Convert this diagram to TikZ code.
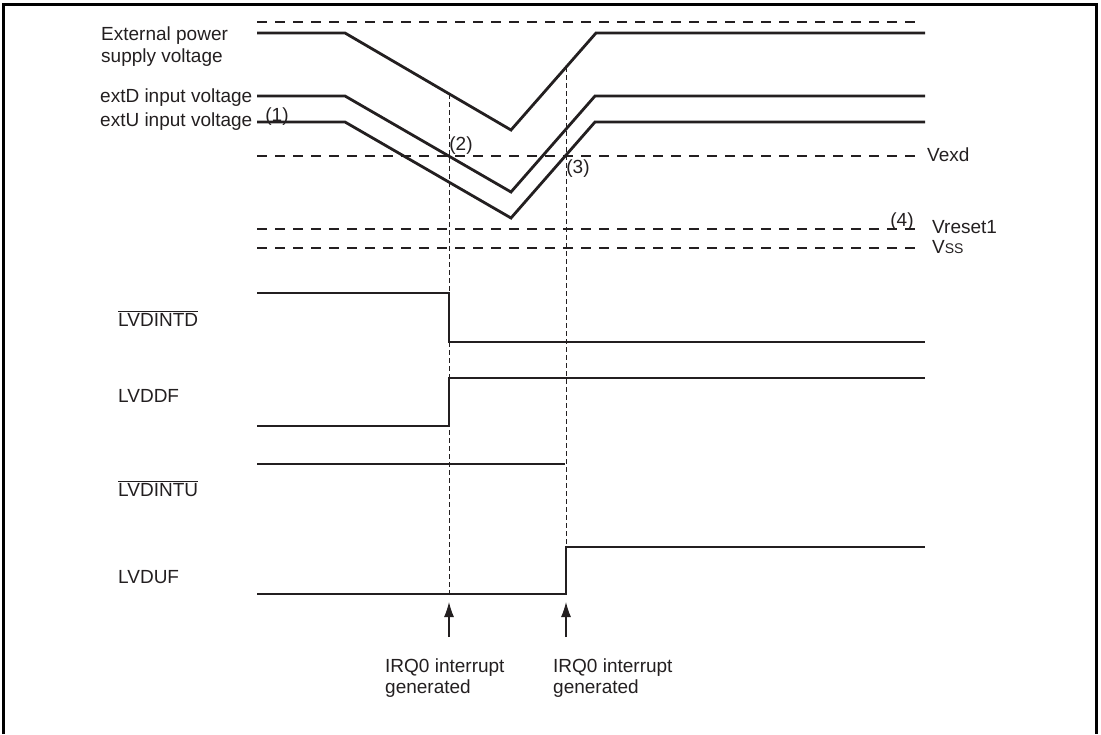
\documentclass[tikz,border=0pt]{standalone}
\usepackage{fontspec}
\setmainfont{Liberation Sans}
\usetikzlibrary{arrows.meta}
\definecolor{ink}{RGB}{35,31,32}
\begin{document}
\begin{tikzpicture}[x=1pt,y=-1pt,
  lbl/.style={inner sep=0pt, anchor=base west, font=\fontsize{19}{23}\selectfont, text=ink},
  num/.style={inner sep=0pt, anchor=base, font=\fontsize{19}{23}\selectfont, text=ink},
  sig/.style={draw=ink, line width=2.8pt, line join=miter},
  refline/.style={draw=ink, line width=1.1pt, dash pattern=on 10pt off 8pt},
  guide/.style={draw=ink, line width=1pt, dash pattern=on 5pt off 3pt},
  irqarrow/.style={draw=ink, line width=1.1pt, -{Latex[length=15pt,width=10pt]}},
  framestyle/.style={draw=black, line width=3pt}]
\useasboundingbox (0,0) rectangle (1101,734);
% frame (open at the bottom)
\coordinate (fa) at (3,734);
\coordinate (fb) at (3,4);
\coordinate (fc) at (1096,4);
\coordinate (fd) at (1096,734);
\draw[framestyle] (fa) -- (fb) -- (fc) -- (fd);

% reference levels
\coordinate (t0) at (257,22);  \coordinate (t1) at (920,22);
\coordinate (x0) at (257,156); \coordinate (x1) at (920,156);
\coordinate (r0) at (257,229); \coordinate (r1) at (920,229);
\coordinate (s0) at (257,248); \coordinate (s1) at (920,248);
\draw[refline] (t0) -- (t1);
\draw[refline] (x0) -- (x1);
\draw[refline] (r0) -- (r1);
\draw[refline] (s0) -- (s1);

% analog waveforms
\coordinate (e0) at (257,33);  \coordinate (e1) at (345,33);  \coordinate (e2) at (511,130);
\coordinate (e3) at (596,33);  \coordinate (e4) at (925,33);
\coordinate (d0) at (257,96);  \coordinate (d1) at (345,96);  \coordinate (d2) at (511,192);
\coordinate (d3) at (595,96);  \coordinate (d4) at (925,96);
\coordinate (u0) at (257,122); \coordinate (u1) at (345,122); \coordinate (u2) at (511,218);
\coordinate (u3) at (595,122); \coordinate (u4) at (925,122);
\draw[sig] (e0) -- (e1) -- (e2) -- (e3) -- (e4);
\draw[sig] (d0) -- (d1) -- (d2) -- (d3) -- (d4);
\draw[sig] (u0) -- (u1) -- (u2) -- (u3) -- (u4);

% digital signals
\coordinate (a0) at (257,293); \coordinate (a1) at (449,293); \coordinate (a2) at (449,342); \coordinate (a3) at (925,342);
\coordinate (b0) at (257,426); \coordinate (b1) at (449,426); \coordinate (b2) at (449,378); \coordinate (b3) at (925,378);
\coordinate (c0) at (257,464); \coordinate (c1) at (565,464);
\coordinate (f0) at (257,594); \coordinate (f1) at (566,594); \coordinate (f2) at (566,547); \coordinate (f3) at (925,547);
\draw[sig] (a0) -- (a1) -- (a2) -- (a3);
\draw[sig] (b0) -- (b1) -- (b2) -- (b3);
\draw[sig] (c0) -- (c1);
\draw[sig] (f0) -- (f1) -- (f2) -- (f3);

% guide lines
\coordinate (g1t) at (449,94);  \coordinate (g1b) at (449,594);
\coordinate (g2t) at (566,67);  \coordinate (g2b) at (566,547);
\draw[guide] (g1t) -- (g1b);
\draw[guide] (g2t) -- (g2b);

% interrupt arrows
\coordinate (i1a) at (449,637); \coordinate (i1b) at (449,602);
\coordinate (i2a) at (566,637); \coordinate (i2b) at (566,602);
\draw[irqarrow] (i1a) -- (i1b);
\draw[irqarrow] (i2a) -- (i2b);

% left labels
\node[lbl] (lext1) at (101,40) {External power};
\node[lbl] (lext2) at (101,62) {supply voltage};
\node[lbl] (lextd) at (100,102) {extD input voltage};
\node[lbl] (lextu) at (100,126) {extU input voltage};
\node[lbl] (lintd) at (118,326) {$\overline{\hbox{LVDINTD}}$};
\node[lbl] (lddf) at (118,402) {LVDDF};
\node[lbl] (lintu) at (118,496) {$\overline{\hbox{LVDINTU}}$};
\node[lbl] (luf) at (118,583) {LVDUF};

% right labels
\node[lbl] (lvexd) at (927,161) {Vexd};
\node[lbl] (lvres) at (932,233) {Vreset1};
\node[lbl] (lvss) at (932,253) {V{\fontsize{14}{14}\selectfont SS}};

% numbered marks
\node[num] (n1) at (277,121) {(1)};
\node[num] (n2) at (461,150) {(2)};
\node[num] (n3) at (578,173) {(3)};
\node[num] (n4) at (902,226) {(4)};

% interrupt labels
\node[lbl] (q1a) at (385,672) {IRQ0 interrupt};
\node[lbl] (q1b) at (385,693) {generated};
\node[lbl] (q2a) at (553,672) {IRQ0 interrupt};
\node[lbl] (q2b) at (553,693) {generated};
\end{tikzpicture}
\end{document}
